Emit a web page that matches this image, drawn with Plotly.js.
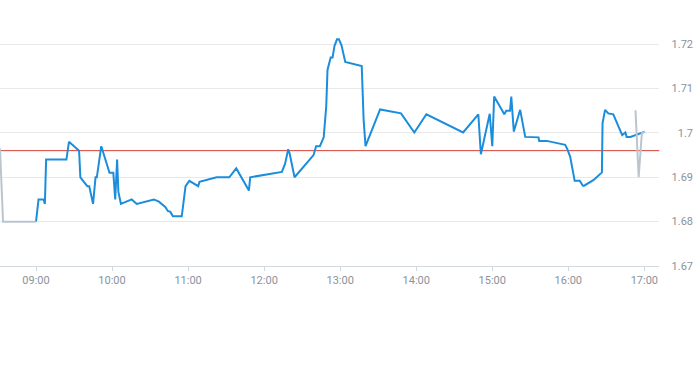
<!DOCTYPE html>
<html>
<head>
<meta charset="utf-8">
<script src="https://cdn.plot.ly/plotly-3.0.1.min.js"></script>
<style>
  html, body { margin: 0; padding: 0; background: #ffffff; }
  #chart { width: 693px; height: 365px; }
</style>
</head>
<body>
<div id="chart"></div>
<script>
// ---- data ----
var day = "2024-01-01 ";
var preTimes = ["08:31:36", "08:34", "09:00"];
var preValues = [1.6965, 1.680, 1.680];

var mainTimes = [
  "09:00", "09:02", "09:06", "09:07", "09:08", "09:24", "09:26", "09:34", "09:35", "09:40:30",
  "09:42", "09:45", "09:47", "09:48", "09:51:30", "09:58", "10:01", "10:02:30", "10:04", "10:05",
  "10:07", "10:15:30", "10:19:30", "10:33", "10:37", "10:42", "10:44", "10:46", "10:48", "10:55",
  "10:58", "11:01", "11:08", "11:09", "11:22:30", "11:32:30", "11:38", "11:48", "11:49", "12:14",
  "12:16:30", "12:19", "12:20", "12:24", "12:39", "12:41", "12:44", "12:47", "12:49", "12:50",
  "12:52:30", "12:54", "12:55:30", "12:57:30", "12:59", "13:01", "13:04", "13:17", "13:18:30", "13:20",
  "13:31:30", "13:48", "13:58:30", "14:08", "14:37", "14:49", "14:51", "14:58", "15:00", "15:01:30",
  "15:09:30", "15:11", "15:14", "15:15", "15:17", "15:22", "15:26", "15:36:30", "15:37", "15:43",
  "15:57:30", "15:59", "16:01:30", "16:04", "16:05", "16:09", "16:11:30", "16:12:30", "16:20", "16:26:30",
  "16:27", "16:29", "16:31:30", "16:35:30", "16:42:30", "16:45", "16:46", "16:49", "16:54", "17:00:30"
];
var mainValues = [
  1.680, 1.685, 1.685, 1.684, 1.694, 1.694, 1.698, 1.696, 1.690, 1.688,
  1.688, 1.684, 1.690, 1.690, 1.697, 1.691, 1.691, 1.685, 1.694, 1.6867,
  1.684, 1.685, 1.684, 1.685, 1.6845, 1.6833, 1.6824, 1.6822, 1.6812, 1.6812,
  1.688, 1.6892, 1.688, 1.689, 1.690, 1.690, 1.692, 1.687, 1.690, 1.6912,
  1.693, 1.6963, 1.6955, 1.690, 1.695, 1.697, 1.697, 1.699, 1.706, 1.7142,
  1.717, 1.717, 1.7196, 1.7211, 1.7211, 1.7198, 1.716, 1.7151, 1.703, 1.697,
  1.7053, 1.7044, 1.7001, 1.7042, 1.7001, 1.7042, 1.6952, 1.7043, 1.697, 1.7082,
  1.7042, 1.705, 1.705, 1.7082, 1.7003, 1.7052, 1.6991, 1.699, 1.6982, 1.6982,
  1.6973, 1.6965, 1.6946, 1.6909, 1.6892, 1.6892, 1.6881, 1.6881, 1.6894, 1.6911,
  1.7022, 1.7052, 1.7044, 1.7042, 1.6995, 1.7001, 1.6991, 1.6991, 1.6997, 1.7003
];

var postTimes = ["16:53", "16:55:30", "16:58", "17:00:30"];
var postValues = [1.7051, 1.690, 1.6999, 1.7003];

var prevClose = 1.696;
var xRange = ["08:31:36", "17:11:48"];
var yTicks = [1.67, 1.68, 1.69, 1.70, 1.71, 1.72];
var yTickLabels = ["1.67", "1.68", "1.69", "1.7", "1.71", "1.72"];

function withDay(arr) { return arr.map(function (t) { return day + t; }); }

var traces = [
  {
    x: withDay(mainTimes), y: mainValues, type: "scatter", mode: "lines",
    line: { color: "#1b8ddd", width: 2 }, hoverinfo: "skip"
  },
  {
    x: withDay(preTimes), y: preValues, type: "scatter", mode: "lines",
    line: { color: "#b9c5cf", width: 2 }, hoverinfo: "skip"
  },
  {
    x: withDay(postTimes), y: postValues, type: "scatter", mode: "lines",
    line: { color: "#b9c5cf", width: 2 }, hoverinfo: "skip"
  }
];

var layout = {
  width: 693, height: 365,
  margin: { l: 0, r: 0, t: 22, b: 99 },
  paper_bgcolor: "#ffffff", plot_bgcolor: "#ffffff",
  showlegend: false,
  font: { family: "Roboto, 'Liberation Sans', sans-serif", size: 11, color: "#8a929c" },
  xaxis: {
    type: "date",
    domain: [0, 0.9514],
    range: withDay(xRange),
    tickformat: "%H:%M",
    dtick: 3600000,
    tick0: day + "09:00",
    showgrid: false,
    showline: true, linecolor: "#d3d9e0", linewidth: 1,
    ticks: "outside", ticklen: 4, tickcolor: "#d3d9e0",
    tickfont: { family: "Roboto, sans-serif", size: 11, color: "#8a929c" },
    zeroline: false, fixedrange: true
  },
  yaxis: {
    range: [1.67, 1.725],
    anchor: "free", position: 1, side: "left",
    tickmode: "array", tickvals: yTicks, ticktext: yTickLabels,
    showgrid: true, gridcolor: "#e8e8ea", gridwidth: 1,
    showline: false, zeroline: false, ticks: "",
    tickfont: { family: "Roboto, sans-serif", size: 11, color: "#8a929c" },
    fixedrange: true
  },
  shapes: [{
    type: "line", xref: "x domain", x0: 0, x1: 1, yref: "y", y0: prevClose, y1: prevClose,
    line: { color: "#d8403a", width: 1 }, layer: "below"
  }]
};

Plotly.newPlot("chart", traces, layout, { displayModeBar: false, staticPlot: true });
</script>
</body>
</html>
